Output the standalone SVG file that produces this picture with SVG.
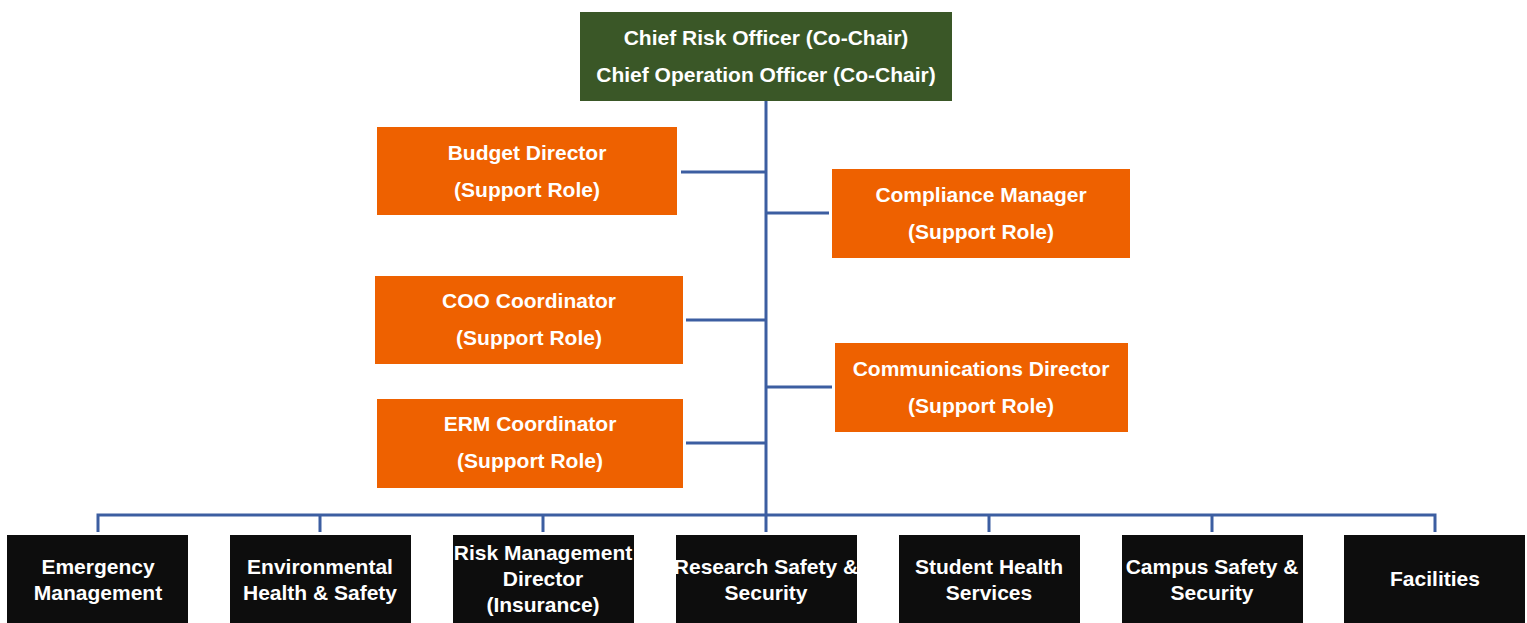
<svg xmlns="http://www.w3.org/2000/svg" width="1527" height="623" viewBox="0 0 1527 623">
<style>
.t{font-family:"Liberation Sans",Arial,sans-serif;font-weight:bold;font-size:21px;fill:#fff;text-anchor:middle}
.g{fill:#3A5727}
.o{fill:#EE6100}
.k{fill:#0D0D0D}
.c{stroke:#3C5EA1;stroke-width:3;fill:none}
</style>
<g id="connectors">
<path class="c" d="M766 101V516"/>
<path class="c" d="M681 172H766M766 213H829M686 320H766M766 387H832M686 443H766"/>
<path class="c" d="M98 532V515H1435V532M320 515V532M543 515V532M766 515V532M989 515V532M1212 515V532"/>
</g>
<g id="chief"><rect class="g" x="580" y="12" width="372" height="89"/>
<text class="t" x="766" y="45">Chief Risk Officer (Co-Chair)</text>
<text class="t" x="766" y="82">Chief Operation Officer (Co-Chair)</text></g>
<g id="budget"><rect class="o" x="377" y="127" width="300" height="88"/>
<text class="t" x="527" y="160">Budget Director</text><text class="t" x="527" y="197">(Support Role)</text></g>
<g id="compliance"><rect class="o" x="832" y="169" width="298" height="89"/>
<text class="t" x="981" y="202">Compliance Manager</text><text class="t" x="981" y="239">(Support Role)</text></g>
<g id="coo"><rect class="o" x="375" y="276" width="308" height="88"/>
<text class="t" x="529" y="308">COO Coordinator</text><text class="t" x="529" y="345">(Support Role)</text></g>
<g id="comm"><rect class="o" x="835" y="343" width="293" height="89"/>
<text class="t" x="981" y="376">Communications Director</text><text class="t" x="981" y="413">(Support Role)</text></g>
<g id="erm"><rect class="o" x="377" y="399" width="306" height="89"/>
<text class="t" x="530" y="431">ERM Coordinator</text><text class="t" x="530" y="468">(Support Role)</text></g>
<g id="emergency"><rect class="k" x="7" y="535" width="181" height="90"/>
<text class="t" x="98" y="574">Emergency</text><text class="t" x="98" y="600">Management</text></g>
<g id="environmental"><rect class="k" x="230" y="535" width="181" height="90"/>
<text class="t" x="320" y="574">Environmental</text><text class="t" x="320" y="600">Health &amp; Safety</text></g>
<g id="riskmgmt"><rect class="k" x="453" y="535" width="181" height="90"/>
<text class="t" x="543" y="560">Risk Management</text><text class="t" x="543" y="586">Director</text><text class="t" x="543" y="612">(Insurance)</text></g>
<g id="research"><rect class="k" x="676" y="535" width="181" height="90"/>
<text class="t" x="766" y="574">Research Safety &amp;</text><text class="t" x="766" y="600">Security</text></g>
<g id="student"><rect class="k" x="899" y="535" width="181" height="90"/>
<text class="t" x="989" y="574">Student Health</text><text class="t" x="989" y="600">Services</text></g>
<g id="campus"><rect class="k" x="1122" y="535" width="181" height="90"/>
<text class="t" x="1212" y="574">Campus Safety &amp;</text><text class="t" x="1212" y="600">Security</text></g>
<g id="facilities"><rect class="k" x="1344" y="535" width="181" height="90"/>
<text class="t" x="1435" y="586">Facilities</text></g>
</svg>
